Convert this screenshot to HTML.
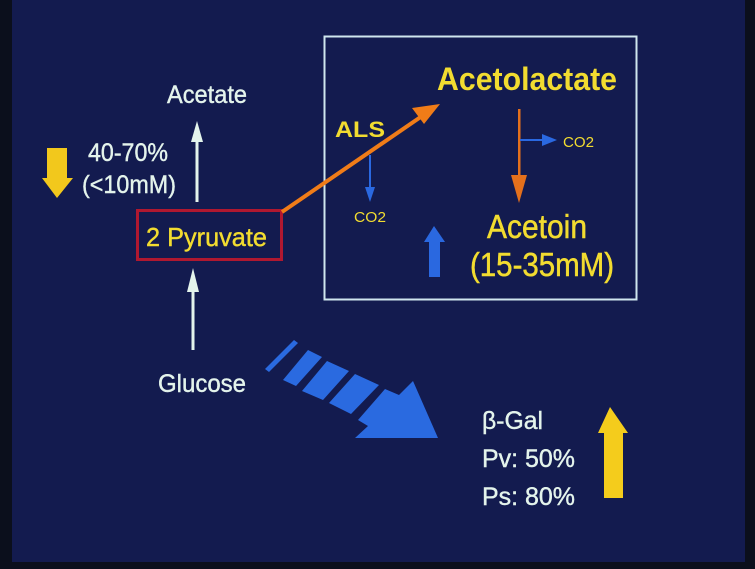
<!DOCTYPE html>
<html><head><meta charset="utf-8"><style>
html,body{margin:0;padding:0;background:#0b0f1c;}
svg{display:block}
text{font-family:"Liberation Sans",sans-serif;}
</style></head><body>
<svg width="755" height="569" viewBox="0 0 755 569" xmlns="http://www.w3.org/2000/svg">
<rect width="755" height="569" fill="#0b0f1c"/>
<rect x="12" y="0" width="733" height="562" fill="#131b4f"/>
<!-- box -->
<rect x="324.5" y="36.5" width="312" height="263" fill="none" stroke="#cfe6ee" stroke-width="2"/>
<!-- red box -->
<rect x="137.5" y="210.5" width="144" height="49" fill="none" stroke="#b01830" stroke-width="3"/>
<text x="146" y="246" font-size="26" fill="#f2dc30" stroke="#f2dc30" stroke-width="0.4" textLength="121" lengthAdjust="spacingAndGlyphs">2  Pyruvate</text>
<!-- white texts -->
<g fill="#e4f4ec" stroke="#e4f4ec" stroke-width="0.4">
<text x="167" y="103" font-size="25" textLength="80" lengthAdjust="spacingAndGlyphs">Acetate</text>
<text x="88" y="161" font-size="25" textLength="80" lengthAdjust="spacingAndGlyphs">40-70%</text>
<text x="82" y="193" font-size="25" textLength="94" lengthAdjust="spacingAndGlyphs">(&lt;10mM)</text>
<text x="158" y="392" font-size="25" textLength="88" lengthAdjust="spacingAndGlyphs">Glucose</text>
<text x="482" y="429" font-size="25" textLength="61" lengthAdjust="spacingAndGlyphs">β-Gal</text>
<text x="482" y="467" font-size="25" textLength="93" lengthAdjust="spacingAndGlyphs">Pv: 50%</text>
<text x="482" y="505" font-size="25" textLength="93" lengthAdjust="spacingAndGlyphs">Ps: 80%</text>
</g>
<!-- white arrows -->
<g fill="#e4f4ec">
<rect x="195.5" y="140" width="3" height="62"/>
<polygon points="197,121 191,142 203,142"/>
<rect x="191.5" y="290" width="3" height="60"/>
<polygon points="193,268 187,292 199,292"/>
</g>
<!-- yellow arrows -->
<polygon points="47,148 67,148 67,178 73,178 57,198 42,178 47,178" fill="#f2c81c"/>
<polygon points="610,407 628,433 623,433 623,498 604,498 604,433 598,433" fill="#f4cc1c"/>
<!-- yellow box texts -->
<g fill="#f2dc30">
<text x="437" y="90" font-size="32" font-weight="bold" textLength="180" lengthAdjust="spacingAndGlyphs">Acetolactate</text>
<text x="335" y="137" font-size="22" font-weight="bold" textLength="50" lengthAdjust="spacingAndGlyphs">ALS</text>
<text x="487" y="238" font-size="33" stroke="#f2dc30" stroke-width="0.5" textLength="100" lengthAdjust="spacingAndGlyphs">Acetoin</text>
<text x="470" y="276" font-size="33" stroke="#f2dc30" stroke-width="0.5" textLength="144" lengthAdjust="spacingAndGlyphs">(15-35mM)</text>
<text x="354" y="222" font-size="15" textLength="32" lengthAdjust="spacingAndGlyphs">CO2</text>
<text x="563" y="147" font-size="15" textLength="31" lengthAdjust="spacingAndGlyphs">CO2</text>
</g>
<!-- orange arrows -->
<line x1="282" y1="212" x2="425" y2="114" stroke="#f07c18" stroke-width="4"/>
<polygon points="440,104 412,108 424,124" fill="#f07c18"/>
<rect x="518" y="109" width="2.5" height="68" fill="#e4701c"/>
<polygon points="519,203 511,175 527,175" fill="#e4701c"/>
<!-- blue small arrows -->
<g fill="#2a68e0">
<rect x="369" y="155" width="2" height="35"/>
<polygon points="370,202 365,187 375,187"/>
<rect x="520" y="139" width="24" height="2"/>
<polygon points="557,140 542,134 542,146"/>
<polygon points="434,226 445,242 440,242 440,277 429,277 429,242 424,242"/>
</g>
<!-- big dashed arrow -->
<g fill="#2a6ae0">
<polygon points="265,369 294,340 298,343 269,372"/>
<polygon points="283,380 308,350 322,357 296,386"/>
<polygon points="302,391 327,361 349,371 323,400"/>
<polygon points="329,403 355,374 379,385 351,414"/>
<polygon points="355,438 368,426 358,420 385,389 399,395 413,381 438,438"/>
</g>
</svg>
</body></html>
